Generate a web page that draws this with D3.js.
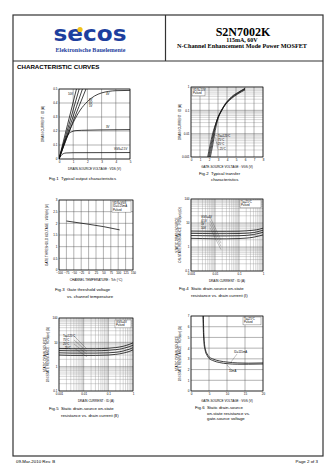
<!DOCTYPE html>
<html>
<head>
<meta charset="utf-8">
<script src="https://cdn.jsdelivr.net/npm/d3@7"></script>
<style>
body { margin: 0; background: #fff; }
svg { display: block; }
</style>
</head>
<body>
<script>
// ---- Fig.1 output characteristics (VDS in V, ID in A)
const fig1XTicks = [0, 1, 2, 3, 4, 5];
const fig1YTicks = [0, 0.1, 0.2, 0.3, 0.4, 0.5];
const fig1Vgs10 = [[0, 0], [0.6, 0.245], [1.23, 0.5]];
const fig1Vgs8 = [[0, 0], [0.7, 0.245], [1.42, 0.5]];
const fig1Vgs6 = [[0, 0], [0.8, 0.245], [1.65, 0.5]];
const fig1Vgs5 = [[0, 0], [0.9, 0.245], [1.9, 0.5]];
const fig1Vgs4 = [[0, 0], [0.5, 0.14], [1, 0.26], [1.5, 0.35], [2, 0.41], [2.5, 0.45], [3, 0.472], [3.5, 0.483], [4, 0.488], [5, 0.49]];
const fig1Vgs3 = [[0, 0], [0.3, 0.1], [0.6, 0.17], [0.9, 0.195], [1.2, 0.203], [2, 0.206], [3, 0.208], [5, 0.21]];
const fig1Vgs25 = [[0, 0], [0.15, 0.025], [0.3, 0.038], [0.5, 0.043], [1, 0.045], [5, 0.046]];

// ---- Fig.2 transfer characteristics (VGS in V, ID in A)
const fig2XTicks = [0, 1, 2, 3, 4, 5, 6, 7, 8];
const fig2YTicks = [0.001, 0.01, 0.1, 1];
const fig2Ta125 = [[1.85, 0.001], [2.1, 0.003], [2.4, 0.01], [2.8, 0.03], [3.2, 0.07], [3.8, 0.17], [4.5, 0.32], [5.2, 0.5], [6, 0.75]];
const fig2Ta75 = [[1.95, 0.001], [2.2, 0.003], [2.5, 0.011], [2.85, 0.035], [3.2, 0.075], [3.8, 0.18], [4.5, 0.34], [5.2, 0.53], [6, 0.8]];
const fig2Ta25 = [[2.05, 0.001], [2.3, 0.003], [2.6, 0.013], [2.95, 0.045], [3.3, 0.085], [3.8, 0.19], [4.5, 0.36], [5.2, 0.56], [6, 0.85]];
const fig2TaM25 = [[2.15, 0.001], [2.4, 0.003], [2.7, 0.014], [3.05, 0.05], [3.4, 0.095], [3.9, 0.2], [4.5, 0.38], [5.2, 0.58], [6, 0.88]];

// ---- Fig.3 gate threshold voltage vs channel temperature
const fig3XTicks = [-100, -75, -50, -25, 0, 25, 50, 75, 100, 125, 150];
const fig3YTicks = [0, 0.5, 1, 1.5, 2, 2.5, 3];
const fig3Vth = [[-75, 2.1], [0, 1.96], [50, 1.86], [105, 1.72]];

// ---- Fig.4 RDS(on) vs ID, Ta=25C (ID in A, RDS in ohm)
const logTicks = [0.001, 0.01, 0.1, 1];
const rdsTicks = [0.1, 1, 10, 100];
const fig4Id = [0.001, 0.003, 0.01, 0.03, 0.1, 0.2, 0.4, 0.7, 1];
const fig4Vgs4 = [4.6, 4.55, 4.5, 4.5, 4.55, 4.7, 5.0, 5.5, 6.1];
const fig4Vgs45 = [3.7, 3.65, 3.6, 3.6, 3.65, 3.75, 4.0, 4.5, 5.0];
const fig4Vgs5 = [3.0, 2.95, 2.9, 2.9, 2.95, 3.05, 3.3, 3.7, 4.1];
const fig4Vgs10 = [2.3, 2.25, 2.2, 2.2, 2.25, 2.35, 2.55, 2.9, 3.2];

// ---- Fig.5 RDS(on) vs ID, VGS=4V
const fig5Id = [0.001, 0.003, 0.01, 0.03, 0.1, 0.2, 0.4, 0.7, 1];
const fig5Ta125 = [5.6, 5.5, 5.5, 5.5, 5.7, 6.1, 6.9, 8.2, 9.5];
const fig5Ta75 = [4.6, 4.5, 4.5, 4.5, 4.7, 5.0, 5.6, 6.6, 7.6];
const fig5Ta25 = [3.7, 3.6, 3.6, 3.6, 3.7, 3.9, 4.4, 5.2, 6.0];
const fig5TaM25 = [3.0, 2.9, 2.9, 2.9, 3.0, 3.2, 3.6, 4.2, 4.9];

// ---- Fig.6 RDS(on) vs VGS
const fig6XTicks = [0, 5, 10, 15, 20];
const fig6YTicks = [0, 1, 2, 3, 4, 5, 6, 7];
const fig6Id115 = [[3.4, 7.5], [3.5, 6], [3.7, 4.6], [4, 3.9], [4.5, 3.45], [5, 3.2], [6, 3.0], [8, 2.8], [10, 2.7], [13, 2.62], [16, 2.6], [20, 2.62]];
const fig6Id10 = [[3.3, 7.5], [3.4, 6], [3.6, 4.5], [4, 3.7], [4.5, 3.3], [5, 3.05], [6, 2.85], [8, 2.65], [10, 2.55], [13, 2.5], [16, 2.5], [20, 2.52]];

const SANS = "'Liberation Sans', Arial, sans-serif";
const SERIF = "'Liberation Serif', 'Times New Roman', serif";

const svg = d3.select("body").append("svg")
	.attr("width", 336)
	.attr("height", 475)
	.style("background", "#fff");

// ---- page frame and header
svg.append("rect")
	.attr("x", 13).attr("y", 15).attr("width", 310).attr("height", 441)
	.attr("fill", "none").attr("stroke", "#333").attr("stroke-width", 1.2);
svg.append("line").attr("x1", 13).attr("x2", 323).attr("y1", 61).attr("y2", 61)
	.attr("stroke", "#333").attr("stroke-width", 1.2);
svg.append("line").attr("x1", 165.5).attr("x2", 165.5).attr("y1", 15).attr("y2", 61)
	.attr("stroke", "#333").attr("stroke-width", 1.2);

// logo, stretched vertically like the original lettering
svg.append("text")
	.attr("transform", "translate(90,41) scale(1,1.25)")
	.attr("text-anchor", "middle")
	.attr("font-family", "'DejaVu Sans', sans-serif").attr("font-weight", "bold")
	.attr("font-size", 17).attr("fill", "#1d3f9e")
	.attr("textLength", 73).attr("lengthAdjust", "spacingAndGlyphs")
	.text("secos");
svg.append("circle").attr("cx", 80).attr("cy", 29.5).attr("r", 2.6).attr("fill", "#f2c21b");
svg.append("text").attr("x", 90.5).attr("y", 51.5).attr("text-anchor", "middle")
	.attr("font-family", SERIF).attr("font-weight", "bold").attr("font-size", 5.4)
	.attr("fill", "#1d3f9e").attr("textLength", 70).attr("lengthAdjust", "spacingAndGlyphs")
	.text("Elektronische Bauelemente");

svg.append("text").attr("x", 243).attr("y", 35.5).attr("text-anchor", "middle")
	.attr("font-family", SERIF).attr("font-weight", "bold").attr("font-size", 12)
	.text("S2N7002K");
svg.append("text").attr("x", 242).attr("y", 42).attr("text-anchor", "middle")
	.attr("font-family", SERIF).attr("font-weight", "bold").attr("font-size", 6)
	.text("115mA, 60V");
svg.append("text").attr("x", 242).attr("y", 48).attr("text-anchor", "middle")
	.attr("font-family", SERIF).attr("font-weight", "bold").attr("font-size", 6)
	.attr("textLength", 130).attr("lengthAdjust", "spacingAndGlyphs")
	.text("N-Channel Enhancement Mode Power MOSFET");

svg.append("text").attr("x", 17).attr("y", 68.5)
	.attr("font-family", SANS).attr("font-weight", "bold").attr("font-size", 6.2)
	.text("CHARACTERISTIC CURVES");

svg.append("text").attr("x", 16).attr("y", 462.5)
	.attr("font-family", SANS).attr("font-size", 4.4).text("09-Mar-2010 Rev. B");
svg.append("text").attr("x", 318).attr("y", 462.5).attr("text-anchor", "end")
	.attr("font-family", SANS).attr("font-size", 4.4).text("Page 2 of 3");

// ---- helpers
const logMinor = (lo, hi) => {
	const out = [];
	for (let d = lo; d < hi * 0.999; d *= 10) {
		for (let k = 2; k <= 9; k++) out.push(d * k);
	}
	return out;
};

const drawPanel = (o) => {
	const g = svg.append("g").attr("transform", "translate(" + o.left + "," + o.top + ")");
	const x = o.x.range([0, o.w]);
	const y = o.y.range([o.h, 0]);

	g.append("rect").attr("width", o.w).attr("height", o.h).attr("fill", "#fff");

	(o.xMinor || []).forEach(v => {
		g.append("line").attr("x1", x(v)).attr("x2", x(v)).attr("y1", 0).attr("y2", o.h)
			.attr("stroke", "#8a8a8a").attr("stroke-width", 0.35);
	});
	(o.yMinor || []).forEach(v => {
		g.append("line").attr("x1", 0).attr("x2", o.w).attr("y1", y(v)).attr("y2", y(v))
			.attr("stroke", "#8a8a8a").attr("stroke-width", 0.35);
	});
	o.xGrid.forEach(v => {
		g.append("line").attr("x1", x(v)).attr("x2", x(v)).attr("y1", 0).attr("y2", o.h)
			.attr("stroke", "#555").attr("stroke-width", 0.45);
	});
	o.yGrid.forEach(v => {
		g.append("line").attr("x1", 0).attr("x2", o.w).attr("y1", y(v)).attr("y2", y(v))
			.attr("stroke", "#555").attr("stroke-width", 0.45);
	});

	const xAxis = d3.axisBottom(x).tickValues(o.xTicks).tickFormat(o.xFmt).tickSize(0).tickPadding(2);
	g.append("g").attr("transform", "translate(0," + o.h + ")").call(xAxis)
		.call(s => s.select(".domain").remove())
		.attr("font-size", 3).attr("font-family", SANS);

	const yAxis = d3.axisLeft(y).tickValues(o.yTicks).tickFormat(o.yFmt).tickSize(0).tickPadding(1.5);
	g.append("g").call(yAxis)
		.call(s => s.select(".domain").remove())
		.attr("font-size", 3).attr("font-family", SANS);

	g.append("text").attr("x", o.w / 2).attr("y", o.h + 11).attr("text-anchor", "middle")
		.attr("font-family", SANS).attr("font-size", 3.1).text(o.xTitle);

	o.yTitle.forEach((t, i) => {
		g.append("text")
			.attr("transform", "translate(" + (o.yTitleX + i * 3.4) + "," + (o.h / 2) + ") rotate(-90)")
			.attr("text-anchor", "middle").attr("font-family", SANS).attr("font-size", 3.1)
			.text(t);
	});

	g.append("clipPath").attr("id", "clip" + o.id)
		.append("rect").attr("width", o.w).attr("height", o.h);
	const plot = g.append("g").attr("clip-path", "url(#clip" + o.id + ")");

	g.append("rect").attr("width", o.w).attr("height", o.h)
		.attr("fill", "none").attr("stroke", "#111").attr("stroke-width", 0.7);

	return { g, plot, x, y };
};

const drawCurve = (p, pts, width) => {
	const line = d3.line()
		.x(d => p.x(d[0]))
		.y(d => p.y(d[1]))
		.curve(d3.curveMonotoneX);
	p.plot.append("path").attr("d", line(pts))
		.attr("fill", "none").attr("stroke", "#111").attr("stroke-width", width || 0.8);
};

const smallText = (p, px, py, t, anchor) => {
	p.g.append("text").attr("x", px).attr("y", py).attr("text-anchor", anchor || "start")
		.attr("font-family", SANS).attr("font-size", 2.8).text(t);
};

const legendBox = (p, bx, by, bw, lines) => {
	p.g.append("rect").attr("x", bx).attr("y", by).attr("width", bw).attr("height", lines.length * 3.2 + 1.5)
		.attr("fill", "#fff").attr("stroke", "#333").attr("stroke-width", 0.3);
	lines.forEach((t, i) => smallText(p, bx + 1, by + 3.2 + i * 3.2, t));
};

const leader = (p, x1, y1, x2, y2) => {
	p.g.append("line").attr("x1", x1).attr("y1", y1).attr("x2", x2).attr("y2", y2)
		.attr("stroke", "#333").attr("stroke-width", 0.3);
};

const caption = (cx, cy, fig, lines, gap) => {
	svg.append("text").attr("x", cx).attr("y", cy)
		.attr("font-family", SANS).attr("font-size", 4.3).text(fig);
	lines.forEach((t, i) => {
		svg.append("text").attr("x", cx + 12).attr("y", cy + i * (gap || 7))
			.attr("font-family", SANS).attr("font-size", 4.3).text(t);
	});
};

const decFmt = d => d3.format("~g")(d);
const logFmt = d => d >= 1 ? String(d) : String(+d.toPrecision(1));
const rdsTitle = ["STATIC DRAIN-SOURCE", "ON-STATE RESISTANCE : RDS(on) (Ω)"];

// ---- Fig.1
const p1 = drawPanel({
	id: 1, left: 59, top: 89, w: 71, h: 70,
	x: d3.scaleLinear().domain([0, 5]), y: d3.scaleLinear().domain([0, 0.5]),
	xGrid: fig1XTicks, yGrid: fig1YTicks, xTicks: fig1XTicks, yTicks: fig1YTicks,
	xFmt: decFmt, yFmt: decFmt,
	xTitle: "DRAIN-SOURCE VOLTAGE : VDS (V)",
	yTitle: ["DRAIN CURRENT : ID (A)"], yTitleX: -15
});
[fig1Vgs10, fig1Vgs8, fig1Vgs6, fig1Vgs5, fig1Vgs4, fig1Vgs3, fig1Vgs25].forEach(s => drawCurve(p1, s));
smallText(p1, 9, 6, "10V");
smallText(p1, 30, 12, "8V");
smallText(p1, 30, 15, "6V");
smallText(p1, 30, 18, "5V");
smallText(p1, 47, 6, "4V");
smallText(p1, 47, 39, "3V");
smallText(p1, 55, 61, "VGS=2.5V");
caption(49, 180, "Fig.1", ["  Typical output characteristics"]);

// ---- Fig.2
const p2 = drawPanel({
	id: 2, left: 191, top: 87, w: 72, h: 70,
	x: d3.scaleLinear().domain([0, 8]), y: d3.scaleLog().domain([0.001, 1]),
	xGrid: fig2XTicks, yGrid: fig2YTicks, yMinor: logMinor(0.001, 1),
	xTicks: fig2XTicks, yTicks: fig2YTicks, xFmt: decFmt, yFmt: logFmt,
	xTitle: "GATE-SOURCE VOLTAGE : VGS (V)",
	yTitle: ["DRAIN CURRENT : ID (A)"], yTitleX: -10
});
[fig2Ta125, fig2Ta75, fig2Ta25, fig2TaM25].forEach(s => drawCurve(p2, s, 0.7));
legendBox(p2, 1, 1, 13, ["VDS=10V", "Pulsed"]);
["Ta=125°C", "75°C", "25°C", "−25°C"].forEach((t, i) => {
	const ly = 50 + i * 4.2;
	smallText(p2, 27, ly, t);
	leader(p2, 26.5, ly - 1, 22 + i * 1.2, ly - 3 - i * 1.5);
});
caption(199, 175, "Fig.2", [" Typical transfer", "  characteristics"], 6);

// ---- Fig.3
const p3 = drawPanel({
	id: 3, left: 59, top: 200, w: 74, h: 70,
	x: d3.scaleLinear().domain([-100, 150]), y: d3.scaleLinear().domain([0, 3]),
	xGrid: fig3XTicks, yGrid: fig3YTicks, xTicks: fig3XTicks, yTicks: fig3YTicks,
	xFmt: decFmt, yFmt: decFmt,
	xTitle: "CHANNEL TEMPERATURE : Tch (°C)",
	yTitle: ["GATE THRESHOLD VOLTAGE : VGS(th) (V)"], yTitleX: -11
});
drawCurve(p3, fig3Vth);
legendBox(p3, 53, 1, 19, ["VDS=VGS", "ID=0.25mA", "Pulsed"]);
caption(55, 291, "Fig.3", ["  Gate threshold voltage", "   vs. channel temperature"]);

// ---- Fig.4
const p4 = drawPanel({
	id: 4, left: 191, top: 199, w: 72, h: 72,
	x: d3.scaleLog().domain([0.001, 1]), y: d3.scaleLog().domain([0.1, 100]),
	xGrid: logTicks, yGrid: rdsTicks, xMinor: logMinor(0.001, 1), yMinor: logMinor(0.1, 100),
	xTicks: logTicks, yTicks: rdsTicks, xFmt: logFmt, yFmt: logFmt,
	xTitle: "DRAIN CURRENT : ID (A)",
	yTitle: rdsTitle, yTitleX: -13
});
[fig4Vgs4, fig4Vgs45, fig4Vgs5, fig4Vgs10].forEach(s => drawCurve(p4, fig4Id.map((d, i) => [d, s[i]])));
legendBox(p4, 49, 1, 21, ["Ta=25°C", "Pulsed"]);
["VGS=4V", "4.5V", "5V", "10V"].forEach((t, i) => {
	const ly = 19 + i * 3.6;
	smallText(p4, 10, ly, t);
	leader(p4, 19, ly - 1, 30, 41 + i * 3.2);
});
caption(179, 290, "Fig.4", ["  Static drain-source on-state", "  resistance vs. drain current (Ⅰ)"]);

// ---- Fig.5
const p5 = drawPanel({
	id: 5, left: 59, top: 318, w: 74, h: 73,
	x: d3.scaleLog().domain([0.001, 1]), y: d3.scaleLog().domain([0.1, 100]),
	xGrid: logTicks, yGrid: rdsTicks, xMinor: logMinor(0.001, 1), yMinor: logMinor(0.1, 100),
	xTicks: logTicks, yTicks: rdsTicks, xFmt: logFmt, yFmt: logFmt,
	xTitle: "DRAIN CURRENT : ID (A)",
	yTitle: rdsTitle, yTitleX: -13
});
[fig5Ta125, fig5Ta75, fig5Ta25, fig5TaM25].forEach(s => drawCurve(p5, fig5Id.map((d, i) => [d, s[i]])));
legendBox(p5, 56, 2, 16, ["VGS=4V", "Pulsed"]);
["Ta=125°C", "75°C", "25°C", "−25°C"].forEach((t, i) => {
	const ly = 19 + i * 4;
	smallText(p5, 4, ly, t);
	leader(p5, 15, ly - 1, 28, 31 + i * 2.6);
});
caption(49, 410, "Fig.5", ["  Static drain-source on-state", "  resistance vs. drain current (Ⅱ)"]);

// ---- Fig.6
const p6 = drawPanel({
	id: 6, left: 191, top: 316, w: 72, h: 75,
	x: d3.scaleLinear().domain([0, 20]), y: d3.scaleLinear().domain([0, 7]),
	xGrid: fig6XTicks, yGrid: fig6YTicks, xTicks: fig6XTicks, yTicks: fig6YTicks,
	xFmt: decFmt, yFmt: decFmt,
	xTitle: "GATE-SOURCE VOLTAGE : VGS (V)",
	yTitle: rdsTitle, yTitleX: -13
});
drawCurve(p6, fig6Id115);
drawCurve(p6, fig6Id10);
legendBox(p6, 52, 1, 18, ["Ta=25°C", "Pulsed"]);
smallText(p6, 43, 37, "ID=115mA");
leader(p6, 46, 38, 40, 46);
smallText(p6, 38, 56, "10mA");
leader(p6, 40, 53.5, 36, 49);
caption(195, 409, "Fig.6", ["  Static drain-source", "  on-state resistance vs.", "  gate-source voltage"], 5.5);
</script>
</body>
</html>
